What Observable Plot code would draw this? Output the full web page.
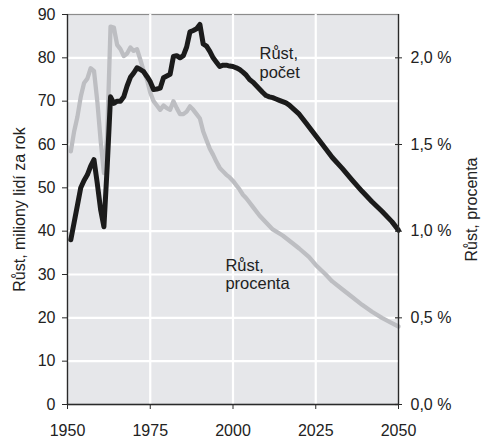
<!DOCTYPE html>
<html><head><meta charset="utf-8">
<script src="https://cdn.jsdelivr.net/npm/d3@7"></script>
<script src="https://cdn.jsdelivr.net/npm/@observablehq/plot@0.6"></script>
<style>body{margin:0;background:#fff}#chart svg{display:block}</style>
</head><body><div id="chart"></div>
<script>
// Růst, počet (miliony lidí za rok)
const countYears = [1951,1952,1953,1954,1955,1956,1957,1958,1959,1960,1961,1962,1963,1964,1965,1966,1967,1968,1969,1970,1971,1972,1973,1974,1975,1976,1977,1978,1979,1980,1981,1982,1983,1984,1985,1986,1987,1988,1989,1990,1991,1992,1993,1994,1995,1996,1997,1998,1999,2000,2001,2002,2003,2004,2005,2006,2007,2008,2009,2010,2011,2012,2013,2014,2015,2016,2017,2018,2019,2020,2022,2025,2028,2030,2033,2036,2039,2042,2045,2048,2050];
const countValues = [38,42,46,50,51.7,53,55,56.5,51,45,41,55,71,69.5,70,70,71,73.5,75.5,76.5,77.7,77.3,76.8,75.7,74.5,72.7,72.8,73,75.4,75.8,76.2,80.3,80.5,80,80.5,82.5,86,86.3,86.7,87.7,83.2,82.7,81.5,80,79,78,78.3,78.3,78.1,78,77.7,77.3,76.7,76,75,74.4,73.6,72.8,72,71.3,71,70.8,70.5,70.2,69.9,69.6,69.1,68.4,67.7,67,65,62,59,57,54.5,51.8,49.2,46.8,44.6,42.2,40.2];

// Růst, procenta (%)
const pctYears = [1951,1952,1953,1954,1955,1956,1957,1958,1959,1960,1961,1962,1963,1964,1965,1966,1967,1968,1969,1970,1971,1972,1973,1974,1975,1976,1977,1978,1979,1980,1981,1982,1983,1984,1985,1986,1987,1988,1989,1990,1991,1992,1993,1994,1995,1996,1997,1998,1999,2000,2001,2002,2003,2004,2005,2006,2008,2010,2012,2015,2018,2020,2023,2025,2028,2030,2033,2036,2039,2042,2045,2048,2050];
const pctValues = [1.46,1.575,1.66,1.775,1.855,1.88,1.94,1.925,1.75,1.525,1.335,1.55,2.18,2.175,2.075,2.05,2.01,2.025,2.06,2.04,2.05,1.99,1.925,1.875,1.80,1.75,1.725,1.70,1.725,1.71,1.70,1.75,1.71,1.675,1.675,1.69,1.72,1.70,1.675,1.65,1.575,1.525,1.475,1.44,1.40,1.365,1.345,1.325,1.31,1.29,1.265,1.24,1.21,1.19,1.165,1.14,1.09,1.05,1.01,0.975,0.93,0.90,0.85,0.805,0.75,0.71,0.665,0.62,0.575,0.535,0.50,0.47,0.45];

const countTicks = [0,10,20,30,40,50,60,70,80,90];
const pctTicks = [0,0.5,1.0,1.5,2.0];
const yearTicks = [1950,1975,2000,2025,2050];
const leftTitle = "Růst, miliony lidí za rok";
const rightTitle = "Růst, procenta";
const annText = ["Růst,\npočet","Růst,\nprocenta"];
const annYears = [2008,1997.7];
const annValues = [82.6,33.8];

const PCT_TO_COUNT = 40; // 2,0 % na pravé ose = 80 na levé ose

const countData = countYears.map((y,i)=>({year:y, value:countValues[i]}));
const pctData = pctYears.map((y,i)=>({year:y, value:pctValues[i]}));
const annData = annText.map((t,i)=>({text:t, year:annYears[i], value:annValues[i]}));

const fmtPct = d => (d/PCT_TO_COUNT).toFixed(1).replace(".", ",") + " %";

const chart = Plot.plot({
  width: 481, height: 442,
  marginLeft: 67, marginRight: 83, marginTop: 14, marginBottom: 38,
  style: {fontFamily: "'Liberation Sans', Arial, sans-serif", fontSize: "16px", color: "#222", background: "#fff"},
  x: {domain: [1950, 2050]},
  y: {domain: [0, 90]},
  marks: [
    Plot.frame({fill: "#e6e7ea", stroke: "#8c8c8c", strokeWidth: 1.2}),
    Plot.gridY(countTicks.filter(d => d > 0 && d < 90), {stroke: "#fff", strokeOpacity: 1, strokeWidth: 2.2}),
    Plot.gridX(yearTicks.filter(d => d > 1950 && d < 2050), {stroke: "#fff", strokeOpacity: 1, strokeWidth: 2.2}),
    Plot.line(pctData, {x: "year", y: d => d.value * PCT_TO_COUNT, stroke: "#bdbec2", strokeWidth: 4.3, strokeLinejoin: "round", strokeLinecap: "round"}),
    Plot.line(countData, {x: "year", y: "value", stroke: "#1b1b1b", strokeWidth: 5, strokeLinejoin: "round", strokeLinecap: "round"}),
    Plot.ruleX([1950, 2050], {stroke: "#2a2a2a", strokeWidth: 1.3}),
    Plot.ruleY([0], {stroke: "#2a2a2a", strokeWidth: 1.3}),
    Plot.axisY({ticks: countTicks, tickSize: 5, tickPadding: 7, label: null, stroke: "#2a2a2a"}),
    Plot.axisY({anchor: "right", ticks: pctTicks.map(d => d * PCT_TO_COUNT), tickFormat: fmtPct, tickSize: 3, tickPadding: 9, label: null, stroke: "#2a2a2a"}),
    Plot.ruleY(pctTicks.map(d => d * PCT_TO_COUNT), {x1: 2049.1, x2: 2050, stroke: "#2a2a2a", strokeWidth: 1.2}),
    Plot.axisX({ticks: yearTicks, tickFormat: d => String(d), tickSize: 5, tickPadding: 15, label: null, stroke: "#2a2a2a"}),
    Plot.text(annData, {x: "year", y: "value", text: "text", textAnchor: "start", lineAnchor: "top", lineHeight: 1.1, fontSize: 16.5, fill: "#222"}),
    Plot.text([leftTitle], {frameAnchor: "left", dx: -48, rotate: -90, text: d => d, textAnchor: "middle", lineAnchor: "middle", fontSize: 16, fill: "#222"}),
    Plot.text([rightTitle], {frameAnchor: "right", dx: 73, dy: 0, rotate: -90, text: d => d, textAnchor: "middle", lineAnchor: "middle", fontSize: 16, fill: "#222"})
  ]
});
document.getElementById("chart").appendChild(chart);
</script></body></html>
